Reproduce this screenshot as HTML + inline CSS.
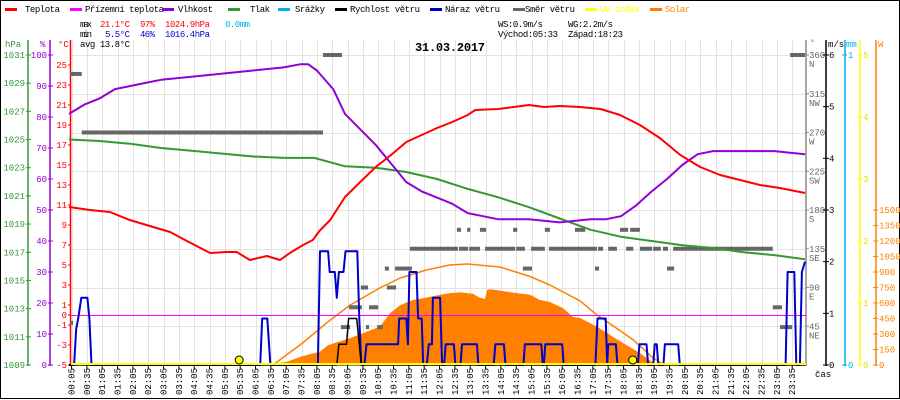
<!DOCTYPE html>
<html><head><meta charset="utf-8"><style>
html,body{margin:0;padding:0;background:#fff}
svg{display:block;font-family:"Liberation Mono",monospace}
</style></head><body>
<svg id="c" width="900" height="400" viewBox="0 0 900 400" xmlns="http://www.w3.org/2000/svg"></svg>
<script>
const tempT=[0,41,80,119,158,198,227,276,309,328,354,387,413,432,458,477,490,511,540,570,600,630,660,690,720,750,780,795,840,870,900,930,960,1000,1040,1078,1117,1156,1196,1235,1274,1313,1352,1391,1440];
const tempV=[10.8,10.5,10.3,9.5,8.9,8.3,7.5,6.2,6.3,6.3,5.5,5.9,5.5,6.2,7.0,7.5,8.4,9.5,11.8,13.3,14.8,16.0,17.3,18.0,18.7,19.3,20.0,20.5,20.6,20.8,21.0,20.8,20.9,20.8,20.6,20.0,19.0,17.7,16.0,14.8,14.0,13.5,13.0,12.7,12.2];
const humT=[0,30,60,90,120,150,180,240,300,360,420,452,468,485,517,540,570,600,630,660,690,720,750,780,810,840,900,960,1020,1050,1080,1110,1140,1170,1200,1230,1260,1320,1380,1440];
const humV=[81,84,86,89,90,91,92,93,94,95,96,97,97,95,89,81,76,71,65,59,56,54,52,49,48,47,47,46,47,47,48,51.5,56,60,64.5,68,69,69,69,68];
const presT=[0,60,120,180,240,300,360,420,480,540,600,660,720,780,840,900,960,1020,1080,1140,1200,1260,1320,1380,1440];
const presV=[1025.0,1024.9,1024.7,1024.4,1024.2,1024.0,1023.8,1023.7,1023.7,1023.1,1023.0,1022.7,1022.2,1021.5,1020.9,1020.2,1019.4,1018.6,1018.1,1017.8,1017.5,1017.3,1017.0,1016.8,1016.5];
const solarT=[380,390,426,452,458,491,507,550,608,628,648,673,687,726,745,765,790,804,814,818,824,843,870,902,921,941,967,986,1000,1033,1053,1065,1084,1117,1143,1160];
const solarV=[0,5,30,77,87,130,193,260,370,500,580,630,640,680,695,705,690,650,640,725,735,720,700,680,630,610,550,465,455,370,310,270,213,116,20,0];
const theoT=[399,452,511,550,608,648,700,745,779,843,900,941,1000,1033,1070,1104,1143,1165];
const theoV=[0,194,435,580,745,842,920,968,977,948,860,774,620,484,360,242,68,0];
const gustT=[0,10,14,18,24,36,40,44,374,378,388,394,487,491,507,510,520,524,528,537,541,564,568,572,578,582,644,646,660,663,666,680,683,690,693,700,704,710,712,726,730,734,737,753,756,766,769,798,801,831,834,851,854,889,892,924,927,929,932,965,968,1030,1034,1050,1053,1055,1070,1073,1113,1116,1130,1133,1143,1146,1150,1153,1163,1166,1192,1195,1402,1406,1419,1423,1430,1434,1440];
const gustV=[0,0,0.7,0.9,1.3,1.3,0.9,0,0,0.9,0.9,0,0,2.2,2.2,1.8,1.8,1.3,1.8,1.8,2.2,2.2,0.9,0,0,0.4,0.4,0.9,0.9,0.4,1.8,1.8,0.9,0.9,0,0,0.4,0.4,1.3,1.3,0,0,0.4,0.4,0,0,0.4,0.4,0,0,0.4,0.4,0,0,0.4,0.4,0,0,0.4,0.4,0,0,0.9,0.9,0,0.4,0.4,0,0,0.4,0.4,0,0,0.4,0.4,0,0,0.4,0.4,0,0,1.8,1.8,0,0,1.8,2.0];
const windT=[0,524,528,543,547,563,568,572,1440];
const windV=[0,0,0.4,0.4,0.9,0.9,0.4,0,0];
const dirStart=[2,2,25,497,532,581,603,548,587,571,622,618,638,667,763,783,814,875,904,759,779,804,869,931,888,939,1035,1055,1090,1117,1143,1162,1182,1029,1170,990,1078,1098,1377,1391,1411];
const dirEnd=[25,8,497,534,550,587,614,573,605,585,640,626,671,761,781,804,873,892,931,767,785,816,877,941,906,1033,1045,1072,1104,1141,1158,1172,1377,1037,1184,1010,1094,1117,1395,1415,1440];
const dirDeg=[338,49,270,360,44,44,44,67,67,90,90,112,112,135,135,135,135,135,135,157,157,157,157,157,112,135,135,135,135,135,135,135,135,112,112,157,157,157,67,44,360];
const hpaTicks=[1009,1011,1013,1015,1017,1019,1021,1023,1025,1027,1029,1031];
const humTicks=[0,10,20,30,40,50,60,70,80,90,100];
const tempTicks=[-5,-3,-1,0,1,3,5,7,9,11,13,15,17,19,21,23,25];
const dirTicks=[45,90,135,180,225,270,315,360];
const dirNames=["NE","E","SE","S","SW","W","NW","N"];
const wsTicks=[0,1,2,3,4,5,6];
const uvTicks=[0,1,2,3,4,5];
const wTicks=[0,150,300,450,600,750,900,1050,1200,1350,1500];

const svg=document.getElementById('c');
const NS='http://www.w3.org/2000/svg';
const X=t=>69+t*0.5111;
const yT=v=>315-10*v, yH=v=>365-3.1*v, yP=v=>365-(v-1009)*14.0909;
const yW=v=>365-v*51.667, yD=v=>365-v*0.86111, yS=v=>365-v*0.103333, yU=v=>365-v*62;
function el(tag,a,parent){const e=document.createElementNS(NS,tag);for(const k in a)e.setAttribute(k,a[k]);(parent||svg).appendChild(e);return e;}
function txt(x,y,s,fill,size,anchor,extra){const e=el('text',Object.assign({x:x,y:y,fill:fill,'font-size':size||9,'text-anchor':anchor||'start'},extra||{}));e.textContent=s;return e;}

// border
let b=el('rect',{x:0.5,y:0.5,width:899,height:398,fill:'none',stroke:'#000'});



// grid
const grid=el('g',{stroke:'#e6e2e2','stroke-width':1});


for(let i=0;i<48;i++){const x=Math.round(X(5+30*i))+0.5;el('line',{x1:x,y1:40,x2:x,y2:365},grid);}
for(let i=0;i<8;i++){const y=Math.round(55+38.75*i)+0.5;el('line',{x1:71,y1:y,x2:806,y2:y},grid);}

// legend
const legItems=[["Teplota","#ff0000",5,25,35],["Přízemní teplota","#ff00ff",70,85,79],["Vlhkost","#9400d3",162,178,35],["Tlak","#339933",228,250,20],["Srážky","#00b0f0",278,295,30],["Rychlost větru","#000000",335,350,70],["Náraz větru","#0000cc",430,445,55],["Směr větru","#666666",513,525,50],["UV index","#ffff00",585,600,40],["Solar","#ff8000",650,665,25]];
for(const it of legItems){
  const g=el('g',{});
  
  
  el('rect',{x:it[2],y:8,width:12,height:3,fill:it[1]},g);
  const t=txt(it[3],12,it[0],it[0]=='UV index'||it[0]=='Solar'?it[1]:'#000',9,'start',{textLength:it[4]});
  g.appendChild(t);
}

// stats
const stats=[[80,27,"max","#000",12],[100,27,"21.1°C","#f00",30],[140,27,"97%","#f00",15],[165,27,"1024.9hPa","#f00",45],[225,27,"0.0mm","#00b0f0",25],
[80,37,"min","#000",12],[105,37,"5.5°C","#00c",25],[140,37,"46%","#00c",15],[165,37,"1016.4hPa","#00c",45],[80,47,"avg 13.8°C","#000",50],
[498,27,"WS:0.9m/s","#000",45],[568,27,"WG:2.2m/s","#000",45],[498,37,"Východ:05:33","#000",60],[568,37,"Západ:18:23","#000",55]];
for(const s of stats){const t=txt(s[0],s[1],s[2],s[3],9,'start',{textLength:s[4]});
  
  }
const title=txt(415,51,"31.03.2017","#000",12,'start',{'font-weight':'bold',textLength:70});



// left axes
function vaxis(x,color,name){const l=el('line',{x1:x,y1:40,x2:x,y2:366,stroke:color,'stroke-width':1.5});
  
  }
vaxis(28,'#339933','pressure-axis');vaxis(50,'#9400d3','humidity-axis');vaxis(70.5,'#ff0000','temperature-axis');
txt(5,47,"hPa","#339933",9);txt(40,47,"%","#9400d3",9);txt(58,47,"°C","#ff0000",9);
for(const v of hpaTicks){const y=yP(v);el('line',{x1:26,y1:y,x2:31,y2:y,stroke:'#339933'});txt(25,y+3,String(v),'#339933',9,'end');}
for(const v of humTicks){const y=yH(v);el('line',{x1:48,y1:y,x2:53,y2:y,stroke:'#9400d3'});txt(47,y+3,String(v),'#9400d3',9,'end');}
for(const v of tempTicks){const y=yT(v);el('line',{x1:68,y1:y,x2:71,y2:y,stroke:'#f00'});txt(67,y+3,String(v),'#f00',9,'end');}

// right axes
vaxis(806,'#888','direction-axis');vaxis(826,'#000','wind-speed-axis');vaxis(845,'#00b0f0','rain-axis');vaxis(860,'#ffff00','uv-axis');vaxis(876,'#ff8000','solar-axis');
txt(810,45,"°","#666",8);txt(828,47,"m/s","#000",9);txt(846,47,"mm","#00b0f0",9);txt(878,47,"W","#ff8000",9);
dirTicks.forEach((v,i)=>{const y=yD(v);el('line',{x1:806,y1:y,x2:809,y2:y,stroke:'#888'});txt(809,y+3,String(v),'#666',9);txt(809,y+12,dirNames[i],'#666',9);});
for(const v of wsTicks){const y=yW(v);el('line',{x1:823,y1:y,x2:829,y2:y,stroke:'#000'});txt(829,y+3,String(v),'#000',9);}
txt(848,yW(6)+3,"1","#00b0f0",9);txt(848,368,"0","#00b0f0",9);
el('line',{x1:842,y1:55,x2:847,y2:55,stroke:'#00b0f0'});el('line',{x1:842,y1:365,x2:847,y2:365,stroke:'#00b0f0'});
for(const v of uvTicks){const y=yU(v);el('line',{x1:857,y1:y,x2:862,y2:y,stroke:'#ffff00'});txt(863,y+3,String(v),'#e0e000',9);}
for(const v of wTicks){const y=yS(v);el('line',{x1:873,y1:y,x2:878,y2:y,stroke:'#ff8000'});txt(879,y+3,String(v),'#ff8000',9);}

// x labels
for(let i=0;i<48;i++){const t=5+30*i,x=X(t);const h=Math.floor(t/60),m=t%60;
  el('line',{x1:x,y1:365,x2:x,y2:369,stroke:'#000'});
  txt(0,0,String(h).padStart(2,'0')+":"+String(m).padStart(2,'0'),'#000',9,'end',{transform:`translate(${x+3},368) rotate(-90)`});}
txt(815,377,"čas","#000",9);

// solar fill
let d='M'+X(solarT[0])+' 365';solarT.forEach((t,i)=>d+=' L'+X(t).toFixed(1)+' '+yS(solarV[i]).toFixed(1));d+=' L'+X(solarT[solarT.length-1])+' 365Z';
const sf=el('path',{d:d,fill:'#ff8000'});



function line(ts,vs,fy,color,w,name){const p=el('polyline',{points:ts.map((t,i)=>X(t).toFixed(1)+','+fy(vs[i]).toFixed(1)).join(' '),fill:'none',stroke:color,'stroke-width':w,'stroke-linejoin':'round'});
  
  return p;}
line(theoT,theoV,yS,'#ff8000',1.5,'solar-theoretical-line');
// zero line
const z=el('line',{x1:71,y1:315.5,x2:806,y2:315.5,stroke:'#ff00ff','stroke-width':1});



// direction dashes
dirStart.forEach((s,i)=>{const r=el('rect',{x:X(s),y:yD(dirDeg[i])-2,width:Math.max(2,X(dirEnd[i])-X(s)),height:4,fill:'#666'});
  
  });

line(presT,presV,yP,'#339933',2,'pressure-line');
line(humT,humV,yH,'#9400d3',2,'humidity-line');
line(tempT,tempV,yT,'#ff0000',2,'temperature-line');
line(gustT,gustV,yW,'#0000cc',2,'wind-gust-line');
line(windT,windV,yW,'#000',1.5,'wind-speed-line');

// baseline
const bl=el('line',{x1:71,y1:365,x2:806,y2:365,stroke:'#000','stroke-width':1});


const uv=el('line',{x1:71,y1:364,x2:806,y2:364,stroke:'#ffff00','stroke-width':2});


for(const t of [333,1103]){const c=el('circle',{cx:X(t),cy:360,r:4,fill:'#ffff00',stroke:'#000','stroke-width':1});
  
  }
</script>
</body></html>
